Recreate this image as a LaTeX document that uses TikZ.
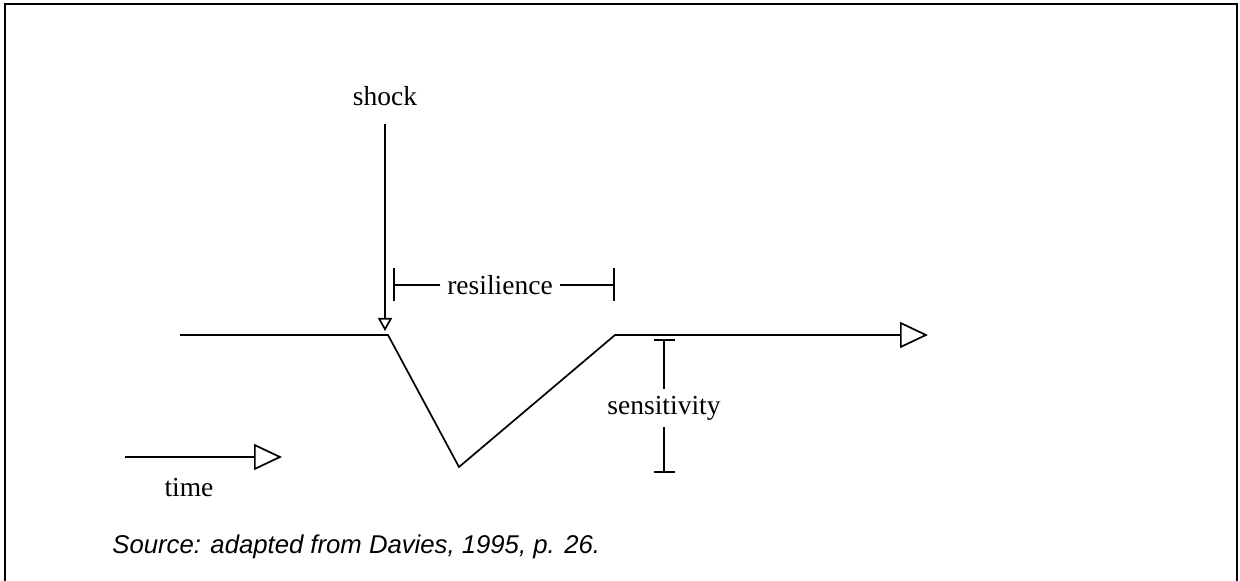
\documentclass[tikz,border=0pt]{standalone}
\usepackage{fontspec}
\setmainfont{Liberation Serif}
\newfontfamily\sourcefont{Liberation Sans}
\usetikzlibrary{arrows.meta}

\tikzset{
    plain/.style={line width=0.85pt},
    openarrow/.style={plain, -{Triangle[open, length=14pt, width=13pt]}},
    shockarrow/.style={plain, -{Triangle[open, length=6.5pt, width=7pt]}},
    resbar/.style={plain, -{Bar[width=16.5pt]}},
    sensbar/.style={plain, -{Bar[width=10.5pt]}},
    word/.style={font=\fontsize{13.75}{16}\selectfont}
}

\begin{document}
\begin{tikzpicture}[x=0.5pt,y=-0.5pt]

\useasboundingbox (0,0) rectangle (1240,581);

% Frame
\draw[line width=1.3pt] (5,590) -- (5,4) -- (1237,4) -- (1237,590);

% Path of the system
\coordinate (start) at (180,335);
\coordinate (drop) at (388,335);
\coordinate (trough) at (459,467);
\coordinate (recover) at (615,335);
\coordinate (axisend) at (928,335);
\draw[openarrow] (start) -- (drop) -- (trough) -- (recover) -- (axisend);

% Shock
\node[word] (shock) at (385,96) {shock};
\coordinate (hit) at (385,331);
\draw[shockarrow, shorten <=5.5pt] (shock) -- (hit);

% Resilience
\node[word] (resilience) at (500,285) {resilience};
\coordinate (resleft) at (393,285);
\coordinate (resright) at (615,285);
\draw[resbar] (resilience.west) -- (resleft);
\draw[resbar] (resilience.east) -- (resright);

% Sensitivity
\node[word] (sensitivity) at (664,408) {sensitivity};
\coordinate (senstop) at (664,339);
\coordinate (sensbottom) at (664,473);
\draw[sensbar] (sensitivity) -- (senstop);
\draw[sensbar] (sensitivity) -- (sensbottom);

% Time
\coordinate (timestart) at (125,457);
\coordinate (timeend) at (282,457);
\draw[openarrow] (timestart) -- (timeend);
\node[word] (time) at (189,488) {time};

% Source
\node[anchor=base west, inner sep=0pt, font=\sourcefont\itshape\fontsize{12.85}{15}\selectfont] (source) at (112,553) {Source: adapted from Davies, 1995, p. 26.};

\end{tikzpicture}
\end{document}
